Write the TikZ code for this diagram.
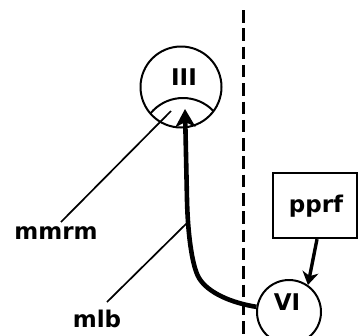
\documentclass[tikz,border=0pt]{standalone}
\usepackage{fontspec}
\setmainfont{DejaVu Sans}
\usetikzlibrary{arrows.meta}
\begin{document}
\begin{tikzpicture}[x=1pt,y=-1pt,
  lab/.style={font=\fontsize{23}{27}\selectfont\bfseries, inner sep=0pt, anchor=base},
  ring/.style={circle, draw, line width=2pt, inner sep=0pt},
  leader/.style={line width=1.7pt},
  bigarrow/.style={line width=4.6pt, -{Stealth[length=18pt,width=20pt,inset=5pt]}},
  smallarrow/.style={line width=3.4pt, -{Stealth[length=13pt,width=16pt,inset=4pt]}}]
\useasboundingbox (0,0) rectangle (358,335);
% dashed midline
\coordinate (dtop) at (243,10);
\coordinate (dbot) at (243,340);
\draw[line width=3pt, dash pattern=on 12.5pt off 5.8pt] (dtop) -- (dbot);
% nucleus III
\node[ring, minimum size=81pt] (III) at (181,87) {};
\node[lab] (IIIt) at (184,85) {III};
\begin{scope}
  \clip (III.center) circle[radius=40.5pt];
  \draw[line width=2pt] (183,140) circle[radius=42pt];
\end{scope}
% nucleus VI
\node[ring, minimum size=64pt] (VI) at (289,312) {};
\node[lab] (VIt) at (287,310) {VI};
% pprf box
\node[draw, line width=2.3pt, minimum width=84pt, minimum height=65pt, inner sep=0pt] (pprf) at (315,205.5) {};
\node[lab] (pprft) at (316,212) {pprf};
% labels
\node[lab] (mmrm) at (56,239) {mmrm};
\node[lab] (mlb) at (97,327) {mlb};
% leader lines
\coordinate (mmrmS) at (61,222);
\coordinate (mmrmE) at (171,111);
\draw[leader] (mmrmS) -- (mmrmE);
\coordinate (mlbS) at (107,302);
\coordinate (mlbE) at (188,222);
\draw[leader] (mlbS) -- (mlbE);
% main arrow VI -> III
\coordinate (bend) at (199,278);
\coordinate (up) at (187,200);
\coordinate (tipIII) at (185,109);
\draw[bigarrow] (VI.171) .. controls (232,303) and (208,293) .. (bend)
  .. controls (193,268) and (188,240) .. (up) -- (tipIII);
% pprf -> VI
\draw[smallarrow] ([xshift=2pt]pprf.south) -- (VI.55);
\end{tikzpicture}
\end{document}
